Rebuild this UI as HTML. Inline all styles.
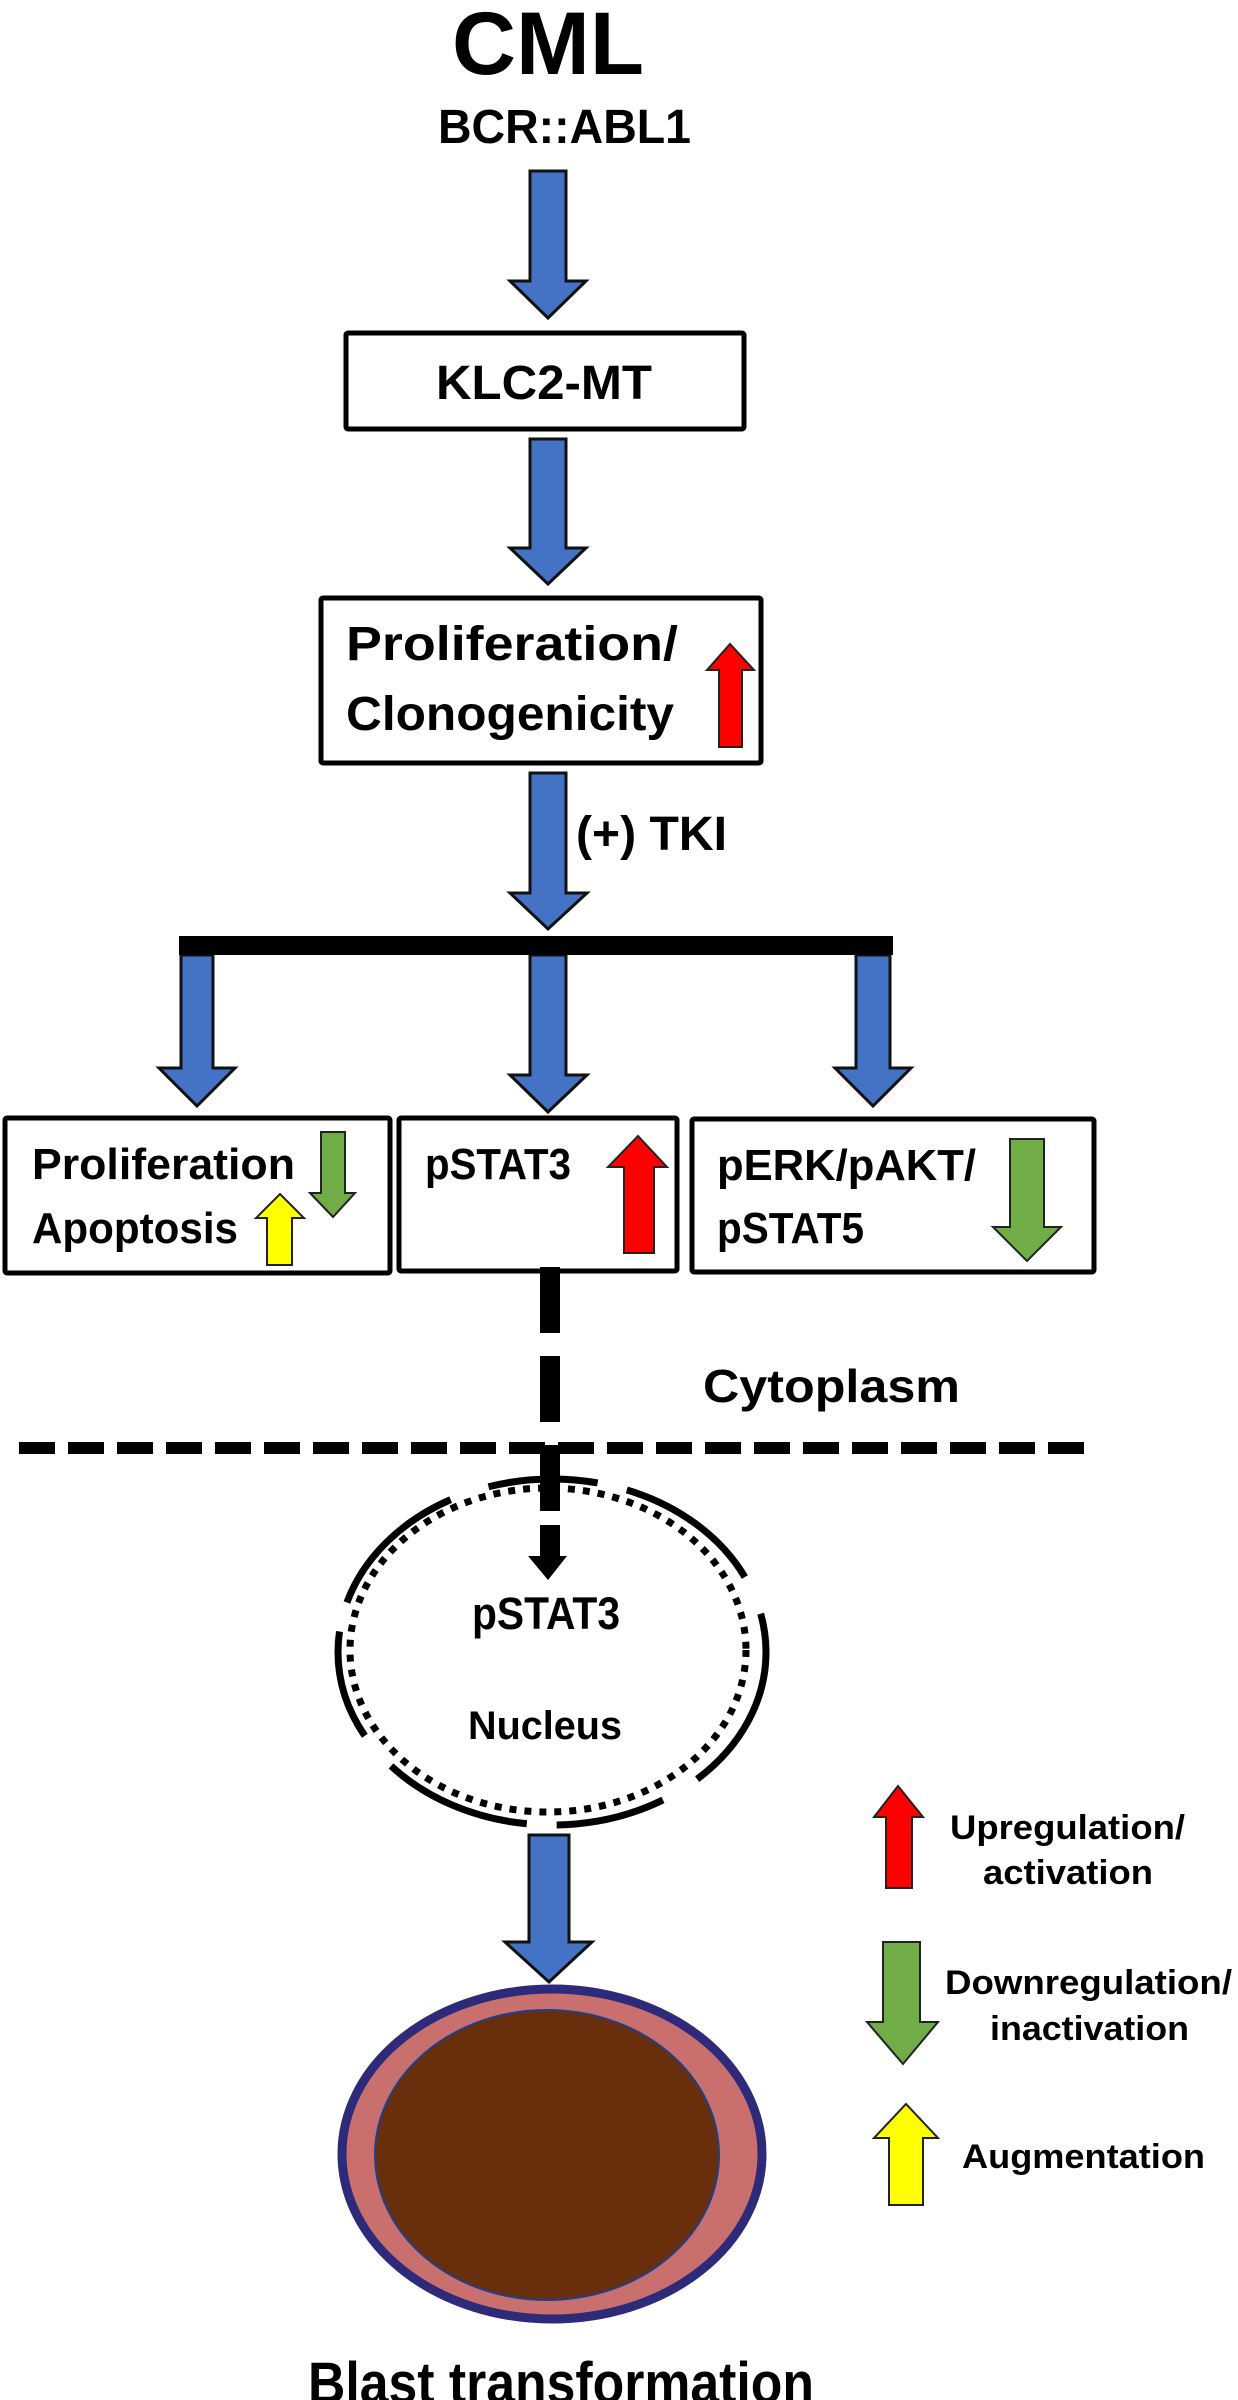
<!DOCTYPE html>
<html><head><meta charset="utf-8"><style>
html,body{margin:0;padding:0;background:#fff;}
svg{display:block;}
text{font-family:"Liberation Sans",sans-serif;font-weight:bold;fill:#000;}
</style></head><body>
<svg width="1238" height="2400" viewBox="0 0 1238 2400" xmlns="http://www.w3.org/2000/svg">
<!-- Title -->
<text x="452" y="74" font-size="89" textLength="192" lengthAdjust="spacingAndGlyphs">CML</text>
<text x="438" y="143" font-size="48" textLength="253" lengthAdjust="spacingAndGlyphs">BCR::ABL1</text>

<!-- blue arrows -->
<g fill="#4472c4" stroke="#111" stroke-width="3" stroke-linejoin="miter">
<polygon points="530,171 566,171 566,281 586,281 548,318 510,281 530,281"/>
<polygon points="530,439 566,439 566,548 586,548 548,584 510,548 530,548"/>
<polygon points="530,773 566,773 566,893 587,893 548,929 510,893 530,893"/>
<polygon points="181,955 213,955 213,1068 235,1068 197,1106 159,1068 181,1068"/>
<polygon points="530,955 566,955 566,1075 587,1075 548,1112 510,1075 530,1075"/>
<polygon points="856,955 890,955 890,1068 911,1068 873,1106 835,1068 856,1068"/>
<polygon points="529,1835 569,1835 569,1942 592,1942 549,1982 505,1942 529,1942"/>
</g>

<!-- boxes -->
<g fill="none" stroke="#000" stroke-width="5" stroke-linejoin="round">
<rect x="346" y="333" width="398" height="96" rx="2"/>
<rect x="321" y="598" width="440" height="165" rx="2"/>
<rect x="5" y="1118" width="385" height="155" rx="2"/>
<rect x="399" y="1118" width="278" height="153" rx="2"/>
<rect x="692" y="1119" width="402" height="153" rx="2"/>
</g>
<text x="436" y="399" font-size="48" textLength="216" lengthAdjust="spacingAndGlyphs">KLC2-MT</text>
<text x="346" y="660" font-size="48" textLength="332" lengthAdjust="spacingAndGlyphs">Proliferation/</text>
<text x="346" y="730" font-size="48" textLength="328" lengthAdjust="spacingAndGlyphs">Clonogenicity</text>
<text x="576" y="850" font-size="48" textLength="151" lengthAdjust="spacingAndGlyphs">(+) TKI</text>

<!-- bar -->
<rect x="179" y="936" width="714" height="19" fill="#000"/>

<!-- colored arrows -->
<g stroke="#222" stroke-width="2">
<polygon fill="#ff0000" points="719,747 742,747 742,670 754,670 730,644 707,670 719,670"/>
<polygon fill="#70ad47" points="321,1132 345,1132 345,1193 355,1193 333,1217 310,1193 321,1193"/>
<polygon fill="#ffff00" points="267,1265 292,1265 292,1218 304,1218 280,1194 256,1218 267,1218"/>
<polygon fill="#ff0000" points="624,1253 654,1253 654,1167 667,1167 638,1136 608,1167 624,1167"/>
<polygon fill="#70ad47" points="1010,1139 1044,1139 1044,1227 1061,1227 1027,1261 993,1227 1010,1227"/>
<polygon fill="#ff0000" points="886,1888 912,1888 912,1817 923,1817 898,1786 874,1817 886,1817"/>
<polygon fill="#70ad47" points="883,1942 920,1942 920,2022 938,2022 903,2064 867,2022 883,2022"/>
<polygon fill="#ffff00" points="889,2205 923,2205 923,2138 938,2138 906,2104 874,2138 889,2138"/>
</g>

<text x="32" y="1179" font-size="44" textLength="263" lengthAdjust="spacingAndGlyphs">Proliferation</text>
<text x="32" y="1243" font-size="44" textLength="206" lengthAdjust="spacingAndGlyphs">Apoptosis</text>
<text x="425" y="1179" font-size="44" textLength="146" lengthAdjust="spacingAndGlyphs">pSTAT3</text>
<text x="717" y="1180" font-size="44" textLength="259" lengthAdjust="spacingAndGlyphs">pERK/pAKT/</text>
<text x="717" y="1243" font-size="44" textLength="147" lengthAdjust="spacingAndGlyphs">pSTAT5</text>
<text x="703" y="1402" font-size="46" textLength="257" lengthAdjust="spacingAndGlyphs">Cytoplasm</text>

<!-- dashed vertical -->
<line x1="550" y1="1267" x2="550" y2="1523" stroke="#000" stroke-width="20" stroke-dasharray="66 23"/>
<rect x="540" y="1525" width="20" height="33" fill="#000"/>
<polygon points="528,1556 567,1556 548,1580" fill="#000"/>
<!-- horizontal dashed -->
<line x1="19" y1="1448" x2="1085" y2="1448" stroke="#000" stroke-width="12" stroke-dasharray="36 13"/>

<!-- nucleus -->
<ellipse cx="548" cy="1650" rx="198" ry="162" fill="none" stroke="#000" stroke-width="7" stroke-dasharray="7 8"/>
<ellipse cx="552" cy="1652" rx="214" ry="173" fill="none" stroke="#000" stroke-width="7" stroke-dasharray="150 40 110 30"/>
<text x="472" y="1629" font-size="45" textLength="148" lengthAdjust="spacingAndGlyphs">pSTAT3</text>
<text x="468" y="1739" font-size="40" textLength="154" lengthAdjust="spacingAndGlyphs">Nucleus</text>

<!-- blast cell -->
<ellipse cx="552" cy="2154" rx="210" ry="165" fill="#c9706e" stroke="#2e2a7a" stroke-width="9"/>
<ellipse cx="547" cy="2155" rx="172" ry="145" fill="#692f0c" stroke="#1f3f8a" stroke-width="2"/>
<text x="308" y="2403" font-size="58" textLength="506" lengthAdjust="spacingAndGlyphs">Blast transformation</text>

<!-- legend text -->
<text x="950" y="1839" font-size="34" textLength="235" lengthAdjust="spacingAndGlyphs">Upregulation/</text>
<text x="983" y="1884" font-size="34" textLength="170" lengthAdjust="spacingAndGlyphs">activation</text>
<text x="945" y="1994" font-size="34" textLength="287" lengthAdjust="spacingAndGlyphs">Downregulation/</text>
<text x="990" y="2040" font-size="34" textLength="199" lengthAdjust="spacingAndGlyphs">inactivation</text>
<text x="962" y="2168" font-size="34" textLength="243" lengthAdjust="spacingAndGlyphs">Augmentation</text>
</svg>
</body></html>
